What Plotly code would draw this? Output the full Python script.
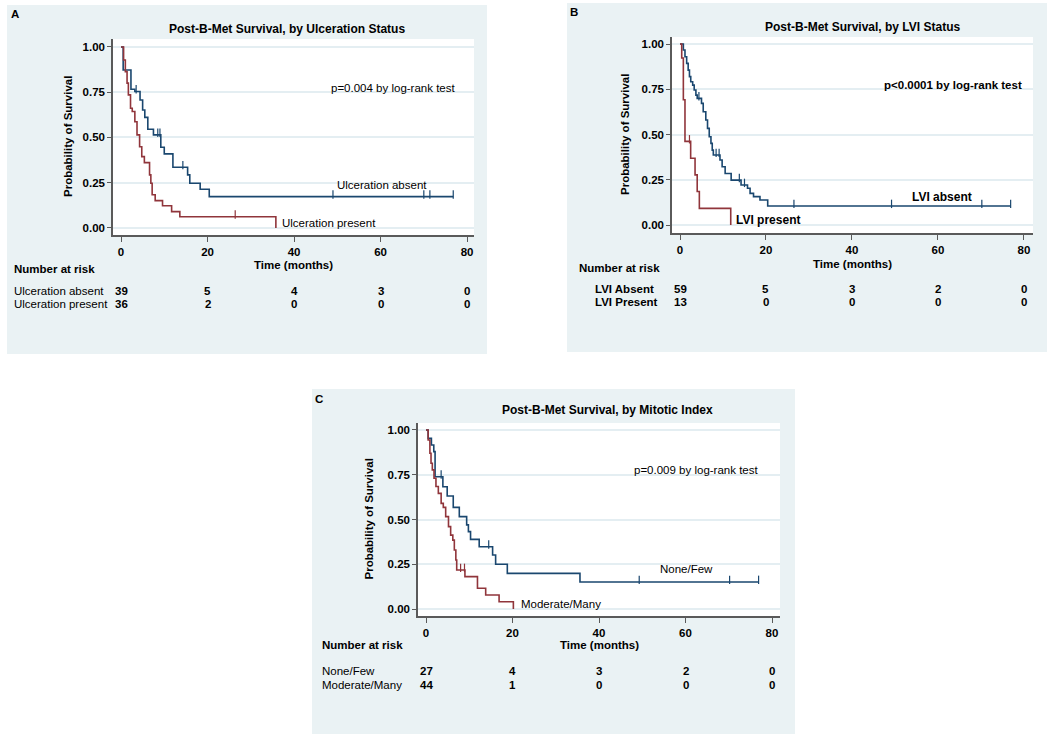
import plotly.graph_objects as go

# ---------------- DATA ----------------
# Panel A: Ulceration status (Kaplan-Meier step points: time in months, survival)
a_absent_t = [0, 0.5, 2.3, 3.2, 4.4, 5.0, 5.5, 6.2, 7.5, 9.2, 10.0, 12.0, 15.4, 15.9, 18.3, 20.4, 76.8]
a_absent_s = [1.0, 0.873, 0.766, 0.754, 0.707, 0.652, 0.611, 0.545, 0.514, 0.446, 0.409, 0.335, 0.293, 0.247, 0.214, 0.173, 0.173]
a_absent_c = [3.5, 8.5, 9.0, 14.3, 49.0, 70.0, 71.4, 76.8]
a_present_t = [0, 0.6, 1.0, 1.4, 1.7, 2.2, 2.6, 3.2, 3.7, 4.3, 4.8, 5.4, 6.6, 6.9, 7.2, 7.9, 9.6, 11.7, 13.6, 35.8, 35.8]
a_present_s = [1.0, 0.928, 0.864, 0.8, 0.735, 0.661, 0.643, 0.587, 0.514, 0.449, 0.394, 0.361, 0.293, 0.247, 0.183, 0.151, 0.123, 0.09, 0.062, 0.062, 0.0]
a_present_c = [26.4]

# Panel B: LVI status
b_absent_t = [0, 0.78, 1.16, 1.55, 1.9, 2.2, 2.5, 2.95, 3.3, 3.7, 4.0, 5.0, 5.4, 6.0, 6.4, 6.8, 7.2, 7.5, 7.75,
              9.3, 9.8, 10.5, 11.9, 14.2, 15.7, 16.3, 17.1, 18.6, 20.4, 76.9]
b_absent_s = [1.0, 0.967, 0.93, 0.893, 0.856, 0.82, 0.792, 0.773, 0.746, 0.718, 0.70, 0.672, 0.626, 0.58, 0.534,
              0.488, 0.451, 0.414, 0.387, 0.359, 0.322, 0.285, 0.248, 0.221, 0.203, 0.175, 0.157, 0.138, 0.105, 0.105]
b_absent_c = [4.4, 8.4, 9.1, 13.8, 15.0, 26.5, 49.2, 70.2, 76.9]
b_present_t = [0, 0.4, 0.78, 1.16, 2.48, 3.5, 4.0, 4.5, 11.8, 11.8]
b_present_s = [1.0, 0.923, 0.692, 0.462, 0.369, 0.277, 0.185, 0.092, 0.092, 0.0]
b_present_c = [2.2]

# Panel C: Mitotic index
c_few_t = [0, 0.5, 1.25, 1.8, 2.1, 3.9, 4.9, 6.3, 7.7, 9.4, 9.8, 10.3, 12.3, 15.4, 16.1, 18.8, 35.6, 76.9]
c_few_s = [1.0, 0.953, 0.916, 0.879, 0.739, 0.683, 0.631, 0.568, 0.516, 0.47, 0.432, 0.389, 0.348, 0.302, 0.25, 0.199, 0.151, 0.151]
c_few_c = [3.5, 14.5, 49.3, 70.2, 76.9]
c_many_t = [0, 0.5, 0.9, 1.16, 1.46, 1.85, 2.3, 2.85, 3.5, 4.0, 4.55, 5.2, 5.7, 6.2, 6.55, 6.9, 7.1, 9.0, 11.9, 13.8, 16.9, 20.2, 20.2]
c_many_s = [1.0, 0.944, 0.87, 0.814, 0.777, 0.73, 0.684, 0.646, 0.59, 0.568, 0.516, 0.46, 0.413, 0.385, 0.33, 0.274, 0.218, 0.181, 0.116, 0.078, 0.041, 0.041, 0.0]
c_many_c = [8.0, 8.9]

# Number at risk tables
risk_times = [0, 20, 40, 60, 80]
a_risk_absent = [39, 5, 4, 3, 0]
a_risk_present = [36, 2, 0, 0, 0]
b_risk_absent = [59, 5, 3, 2, 0]
b_risk_present = [13, 0, 0, 0, 0]
c_risk_few = [27, 4, 3, 2, 0]
c_risk_many = [44, 1, 0, 0, 0]

y_ticks = [0, 0.25, 0.5, 0.75, 1.0]
y_ticklabels = ["0.00", "0.25", "0.50", "0.75", "1.00"]
x_ticks = [0, 20, 40, 60, 80]

# ---------------- STYLE ----------------
W, H = 1050, 739
NAVY = "rgb(26,71,111)"
MAROON = "rgb(144,53,59)"
PANEL_BG = "rgb(234,242,244)"
GRID = "rgb(228,238,242)"
AXIS = "rgb(90,90,90)"
FONT = "Liberation Sans, Arial, sans-serif"


def px(x):
    return x / W


def py(y):
    return 1 - y / H


def surv_at(ts, ss, t):
    val = ss[0]
    for ti, si in zip(ts, ss):
        if ti <= t:
            val = si
    return val


fig = go.Figure()

panels = [
    dict(key="", letter="A", box=(7, 5, 487, 354), plot=(113, 39, 474, 235),
         xr=(-1.85, 81.6), yr=(-0.039, 1.044),
         title="Post-B-Met Survival, by Ulceration Status", title_xy=(287, 29), letter_xy=(15, 14),
         curves=[(a_absent_t, a_absent_s, a_absent_c, NAVY), (a_present_t, a_present_s, a_present_c, MAROON)],
         ptext="p=0.004 by log-rank test", pxy=(48.0, 0.775),
         labels=[("Ulceration absent", 49.5, 0.235), ("Ulceration present", 36.8, 0.03)],
         ytitle_x=68, xtitle_y=265, risk_title_xy=(12, 269), row_x=12, row_y=(291, 304),
         rows=[("Ulceration absent", a_risk_absent), ("Ulceration present", a_risk_present)], bold=False),
    dict(key="2", letter="B", box=(567, 3, 1047, 352), plot=(672, 37, 1033, 233),
         xr=(-1.86, 82.1), yr=(-0.044, 1.039),
         title="Post-B-Met Survival, by LVI Status", title_xy=(862, 27), letter_xy=(574, 12),
         curves=[(b_absent_t, b_absent_s, b_absent_c, NAVY), (b_present_t, b_present_s, b_present_c, MAROON)],
         ptext="p<0.0001 by log-rank test", pxy=(46.9, 0.775),
         labels=[("LVI absent", 53.6, 0.155), ("LVI present", 12.5, 0.03)],
         ytitle_x=625, xtitle_y=264, risk_title_xy=(577, 268), row_x=593, row_y=(289, 302),
         rows=[("LVI Absent", b_risk_absent), ("LVI Present", b_risk_present)], bold=True),
    dict(key="3", letter="C", box=(312, 389, 795, 734), plot=(418, 423, 780, 616),
         xr=(-1.85, 81.85), yr=(-0.039, 1.039),
         title="Post-B-Met Survival, by Mitotic Index", title_xy=(607, 410), letter_xy=(319, 399),
         curves=[(c_few_t, c_few_s, c_few_c, NAVY), (c_many_t, c_many_s, c_many_c, MAROON)],
         ptext="p=0.009 by log-rank test", pxy=(47.6, 0.775),
         labels=[("None/Few", 53.7, 0.225), ("Moderate/Many", 21.5, 0.03)],
         ytitle_x=368, xtitle_y=645, risk_title_xy=(320, 645), row_x=320, row_y=(671, 685),
         rows=[("None/Few", c_risk_few), ("Moderate/Many", c_risk_many)], bold=False),
]

shapes = []
annotations = []
layout_axes = {}


def b(txt, on=True):
    return f"<b>{txt}</b>" if on else txt


for p in panels:
    k = p["key"]
    xa, ya = "x" + k, "y" + k
    x0, y0, x1, y1 = p["box"]
    shapes.append(dict(type="rect", xref="paper", yref="paper", x0=px(x0), x1=px(x1), y0=py(y1), y1=py(y0),
                       fillcolor=PANEL_BG, line=dict(width=0), layer="below"))
    l, t, r, bt = p["plot"]
    shapes.append(dict(type="rect", xref="paper", yref="paper", x0=px(l), x1=px(r), y0=py(bt), y1=py(t),
                       fillcolor="white", line=dict(width=0), layer="below"))

    layout_axes["xaxis" + k] = dict(domain=[px(l), px(r)], range=list(p["xr"]), anchor=ya,
                                     tickvals=x_ticks, ticktext=[f"<b>{v}</b>" for v in x_ticks],
                                     showgrid=False, zeroline=False, showline=True, linecolor=AXIS, linewidth=1.5,
                                     ticks="outside", ticklen=5, tickcolor=AXIS,
                                     tickfont=dict(family=FONT, size=11.5, color="black"))
    layout_axes["yaxis" + k] = dict(domain=[py(bt), py(t)], range=list(p["yr"]), anchor=xa,
                                     tickvals=y_ticks, ticktext=[f"<b>{v}</b>" for v in y_ticklabels],
                                     showgrid=True, gridcolor=GRID, gridwidth=1.5, zeroline=False,
                                     showline=True, linecolor=AXIS, linewidth=1.5,
                                     ticks="outside", ticklen=4, tickcolor=AXIS,
                                     tickfont=dict(family=FONT, size=11.5, color="black"))

    for ts, ss, cs, col in p["curves"]:
        fig.add_trace(go.Scatter(x=ts, y=ss, mode="lines", line=dict(color=col, width=1.6, shape="hv"),
                                 xaxis=xa, yaxis=ya, showlegend=False, hoverinfo="skip"))
        cy = [surv_at(ts, ss, c) + 0.012 for c in cs]
        fig.add_trace(go.Scatter(x=cs, y=cy, mode="markers",
                                 marker=dict(symbol="line-ns", size=6, line=dict(color=col, width=1.2)),
                                 xaxis=xa, yaxis=ya, showlegend=False, hoverinfo="skip"))

    # texts
    annotations.append(dict(text=f"<b>{p['letter']}</b>", xref="paper", yref="paper", x=px(p["letter_xy"][0]),
                            y=py(p["letter_xy"][1]), xanchor="center", yanchor="middle", showarrow=False,
                            font=dict(family=FONT, size=11.5, color="black")))
    annotations.append(dict(text=f"<b>{p['title']}</b>", xref="paper", yref="paper", x=px(p["title_xy"][0]),
                            y=py(p["title_xy"][1]), xanchor="center", yanchor="middle", showarrow=False,
                            font=dict(family=FONT, size=12, color="black")))
    annotations.append(dict(text=b(p["ptext"], p["bold"]), xref=xa, yref=ya, x=p["pxy"][0], y=p["pxy"][1],
                            xanchor="left", yanchor="middle", showarrow=False,
                            font=dict(family=FONT, size=11.5, color="black")))
    for txt, lx, ly in p["labels"]:
        annotations.append(dict(text=b(txt, p["bold"]), xref=xa, yref=ya, x=lx, y=ly,
                                xanchor="left", yanchor="middle", showarrow=False,
                                font=dict(family=FONT, size=12 if p["bold"] else 11.5, color="black")))
    annotations.append(dict(text="<b>Probability of Survival</b>", xref="paper", yref="paper",
                            x=px(p["ytitle_x"]), y=(py(bt) + py(t)) / 2, textangle=-90,
                            xanchor="center", yanchor="middle", showarrow=False,
                            font=dict(family=FONT, size=11.5, color="black")))
    annotations.append(dict(text="<b>Time (months)</b>", xref="paper", yref="paper",
                            x=(px(l) + px(r)) / 2, y=py(p["xtitle_y"]),
                            xanchor="center", yanchor="middle", showarrow=False,
                            font=dict(family=FONT, size=11.5, color="black")))
    annotations.append(dict(text="<b>Number at risk</b>", xref="paper", yref="paper",
                            x=px(p["risk_title_xy"][0]), y=py(p["risk_title_xy"][1]),
                            xanchor="left", yanchor="middle", showarrow=False,
                            font=dict(family=FONT, size=11.5, color="black")))
    for (name, vals), ry in zip(p["rows"], p["row_y"]):
        annotations.append(dict(text=b(name, p["bold"]), xref="paper", yref="paper",
                                x=px(p["row_x"]), y=py(ry), xanchor="left", yanchor="middle", showarrow=False,
                                font=dict(family=FONT, size=11.5, color="black")))
        for tv, v in zip(risk_times, vals):
            annotations.append(dict(text=f"<b>{v}</b>", xref=xa, yref="paper", x=tv, y=py(ry),
                                    xanchor="center", yanchor="middle", showarrow=False,
                                    font=dict(family=FONT, size=11.5, color="black")))

fig.update_layout(width=W, height=H, margin=dict(l=0, r=0, t=0, b=0),
                  paper_bgcolor="white", plot_bgcolor="rgba(0,0,0,0)",
                  shapes=shapes, annotations=annotations, showlegend=False, **layout_axes)

fig.write_html("out.html", config={"displayModeBar": False},
               post_script="document.body.style.margin='0px';document.body.style.overflow='hidden';")
